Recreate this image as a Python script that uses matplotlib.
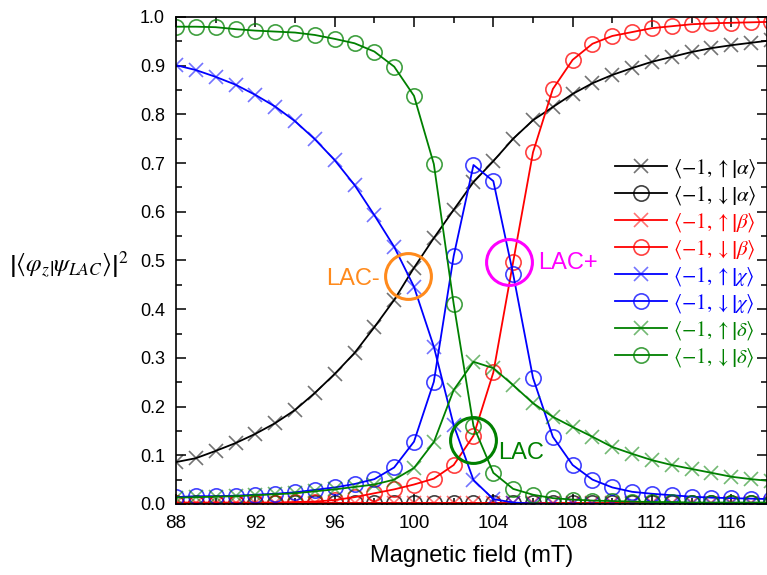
import matplotlib
matplotlib.use("Agg")
import matplotlib.pyplot as plt
from matplotlib.ticker import MultipleLocator
import numpy as np

plt.rcParams['font.family'] = ['Liberation Sans', 'DejaVu Sans']
plt.rcParams['mathtext.fontset'] = 'stix'

field = list(range(88, 119))

alpha_up = [0.086, 0.094, 0.109, 0.125, 0.144, 0.166, 0.193, 0.228, 0.267, 0.310,
            0.363, 0.419, 0.485, 0.546, 0.604, 0.661, 0.704, 0.750, 0.788, 0.815,
            0.842, 0.864, 0.881, 0.895, 0.908, 0.918, 0.928, 0.936, 0.942, 0.947, 0.952]
alpha_dn = [0.002] * 31
beta_up = [0.002] * 31
beta_dn = [0.003, 0.003, 0.003, 0.003, 0.003, 0.003, 0.004, 0.005, 0.008, 0.014,
           0.022, 0.030, 0.040, 0.052, 0.080, 0.140, 0.270, 0.497, 0.722, 0.852,
           0.912, 0.945, 0.961, 0.969, 0.977, 0.981, 0.985, 0.987, 0.988, 0.989, 0.990]
chi_up = [0.901, 0.891, 0.877, 0.861, 0.840, 0.816, 0.786, 0.749, 0.706, 0.655,
          0.593, 0.528, 0.446, 0.323, 0.162, 0.049, 0.010, 0.003, 0.001, 0.0,
          0.0, 0.0, 0.0, 0.0, 0.0, 0.0, 0.0, 0.0, 0.0, 0.0, 0.0]
chi_dn = [0.014, 0.016, 0.016, 0.017, 0.019, 0.021, 0.024, 0.029, 0.034, 0.041,
          0.051, 0.075, 0.128, 0.251, 0.509, 0.696, 0.663, 0.472, 0.259, 0.138,
          0.080, 0.050, 0.034, 0.025, 0.021, 0.018, 0.015, 0.013, 0.012, 0.011, 0.010]
delta_up = [0.013, 0.014, 0.015, 0.016, 0.018, 0.020, 0.022, 0.026, 0.030, 0.035,
            0.040, 0.050, 0.074, 0.127, 0.234, 0.292, 0.279, 0.244, 0.207, 0.179,
            0.158, 0.138, 0.117, 0.103, 0.090, 0.080, 0.072, 0.064, 0.056, 0.051, 0.047]
delta_dn = [0.980, 0.980, 0.979, 0.975, 0.972, 0.970, 0.968, 0.963, 0.955, 0.946,
            0.929, 0.898, 0.838, 0.698, 0.411, 0.160, 0.064, 0.031, 0.019, 0.012,
            0.009, 0.007, 0.006, 0.005, 0.004, 0.004, 0.003, 0.003, 0.003, 0.003, 0.003]

labels = [r'$\left\langle {-}1,\uparrow\right|\left.\alpha\right\rangle$',
          r'$\left\langle {-}1,\downarrow\right|\left.\alpha\right\rangle$',
          r'$\left\langle {-}1,\uparrow\right|\left.\beta\right\rangle$',
          r'$\left\langle {-}1,\downarrow\right|\left.\beta\right\rangle$',
          r'$\left\langle {-}1,\uparrow\right|\left.\chi\right\rangle$',
          r'$\left\langle {-}1,\downarrow\right|\left.\chi\right\rangle$',
          r'$\left\langle {-}1,\uparrow\right|\left.\delta\right\rangle$',
          r'$\left\langle {-}1,\downarrow\right|\left.\delta\right\rangle$']

series = [alpha_up, alpha_dn, beta_up, beta_dn, chi_up, chi_dn, delta_up, delta_dn]
colors = ['#000000', '#000000', '#ff0000', '#ff0000', '#0000ff', '#0000ff', '#008000', '#008000']
markers = ['x', 'o', 'x', 'o', 'x', 'o', 'x', 'o']

lac_labels = ['LAC-', 'LAC+', 'LAC']
lac_x = [99.7, 104.8, 103.0]
lac_y = [0.468, 0.497, 0.131]
lac_colors = ['#ff8a1c', '#ff00ff', '#008000']

fig = plt.figure(figsize=(7.67, 5.75), dpi=100)
ax = fig.add_axes([0.2295, 0.1235, 0.7705, 0.847])

for ys, c, m, lab in zip(series, colors, markers, labels):
    mec = matplotlib.colors.to_rgba(c, 0.55 if m == 'x' else 0.75)
    ax.plot(field, ys, color=c, lw=1.3, marker=m,
            markersize=10 if m == 'x' else 11, mfc='none', mec=mec,
            mew=1.2, label=lab)

for lx, ly, lc in zip(lac_x, lac_y, lac_colors):
    ax.plot([lx], [ly], marker='o', markersize=33, mfc='none', mec=lc, mew=2.2, ls='none')

ax.text(99.7 - 1.45, 0.462, lac_labels[0], color=lac_colors[0], fontsize=17, ha='right', va='center')
ax.text(104.8 + 1.45, 0.494, lac_labels[1], color=lac_colors[1], fontsize=17, ha='left', va='center')
ax.text(103.0 + 1.25, 0.105, lac_labels[2], color=lac_colors[2], fontsize=17, ha='left', va='center')

ax.set_xlim(88, 117.8)
ax.set_ylim(0, 1.0)
ax.xaxis.set_major_locator(MultipleLocator(4))
ax.xaxis.set_minor_locator(MultipleLocator(2))
ax.yaxis.set_major_locator(MultipleLocator(0.1))
ax.yaxis.set_minor_locator(MultipleLocator(0.05))
ax.yaxis.set_major_formatter(matplotlib.ticker.FormatStrFormatter('%.1f'))
ax.tick_params(which='both', direction='in', top=True, right=True, width=1.1)
ax.tick_params(which='major', length=7, labelsize=13, pad=8)
ax.tick_params(axis='x', which='major', labelsize=13.5)
ax.tick_params(which='minor', length=4)
for s in ax.spines.values():
    s.set_linewidth(1.2)

ax.set_xlabel('Magnetic field (mT)', fontsize=17, labelpad=9)
fig.text(0.012, 0.54, r'$\left|\left\langle\varphi_z\right|\left.\psi_{LAC}\right\rangle\right|^2$',
         fontsize=18, ha='left', va='center')

leg = ax.legend(loc='center right', bbox_to_anchor=(1.0, 0.495), frameon=False,
                fontsize=15, handlelength=2.5, numpoints=1, labelspacing=0.2,
                handletextpad=0.3, borderaxespad=0.1, labelcolor='linecolor')

fig.savefig('out.png', dpi=100)
